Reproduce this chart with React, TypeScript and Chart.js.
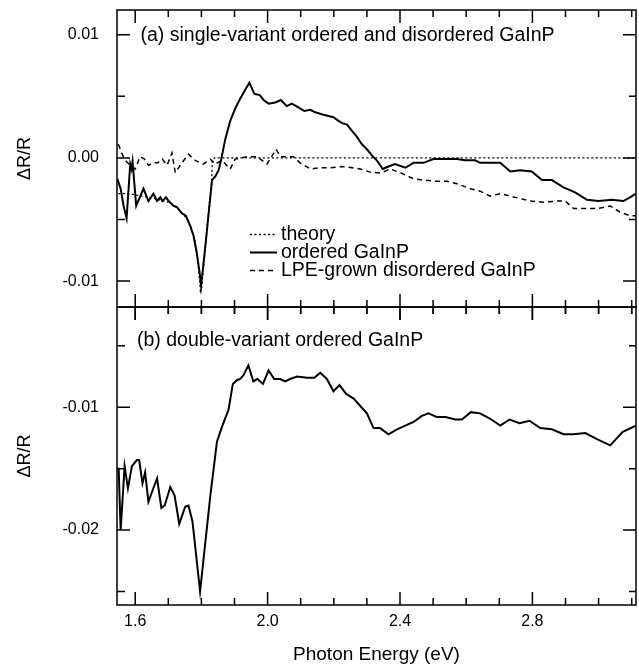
import React, { useEffect, useRef } from "react";
import { Chart, registerables } from "chart.js";

Chart.register(...registerables);

const FONT = "'Liberation Sans', Arial, Helvetica, sans-serif";

// ---------- axes ----------
const X_MIN = 1.545;
const X_MAX = 3.113;
const xTickValues = [1.6, 1.7, 1.8, 1.9, 2.0, 2.1, 2.2, 2.3, 2.4, 2.5, 2.6, 2.7, 2.8, 2.9, 3.0, 3.1];
const xTickLabelValues = [1.6, 2.0, 2.4, 2.8];
const xTickLabelText = ["1.6", "2.0", "2.4", "2.8"];

const TOP_MIN = -0.0121;
const TOP_MAX = 0.012;
const topYTicks = [-0.01, -0.005, 0, 0.005, 0.01];
const topYLabelValues = [-0.01, 0, 0.01];
const topYLabelText = ["-0.01", "0.00", "0.01"];

const BOT_MIN = -0.0261;
const BOT_MAX = -0.00184;
const botYTicks = [-0.025, -0.02, -0.015, -0.01, -0.005];
const botYLabelValues = [-0.02, -0.01];
const botYLabelText = ["-0.02", "-0.01"];

// ---------- texts ----------
const panelALabel = "(a) single-variant ordered and disordered GaInP";
const panelBLabel = "(b) double-variant ordered GaInP";
const legendLabels = ["theory", "ordered GaInP", "LPE-grown disordered GaInP"];
const yTitle = "\u0394R/R";
const xTitle = "Photon Energy (eV)";

// ---------- data (photon energy eV, dR/R) ----------
const theory: [number, number][] = [
  [1.549, -0.0029], [1.58, -0.0029], [1.62, -0.0031], [1.66, -0.0033], [1.7, -0.0036],
  [1.72, -0.0039], [1.74, -0.0044], [1.755, -0.0049], [1.77, -0.0058], [1.78, -0.0067],
  [1.79, -0.0085], [1.797, -0.0108], [1.801, -0.0105], [1.81, -0.0078], [1.82, -0.0048],
  [1.831, -0.0019], [1.833, -0.0002], [1.84, 0], [3.113, 0],
];

const orderedSingle: [number, number][] = [
  [1.546, -0.0017], [1.556, -0.0025], [1.565, -0.0039], [1.574, -0.0049], [1.585, -0.0005],
  [1.589, -0.0009], [1.592, -0.0003], [1.603, -0.0039], [1.625, -0.0025], [1.64, -0.0035],
  [1.655, -0.0029], [1.666, -0.0035], [1.676, -0.0032], [1.682, -0.0035], [1.693, -0.0032],
  [1.701, -0.0035], [1.716, -0.0039], [1.726, -0.004], [1.741, -0.0045], [1.753, -0.0047],
  [1.766, -0.0055], [1.776, -0.0063], [1.786, -0.0077], [1.796, -0.0096], [1.799, -0.0104],
  [1.811, -0.0074], [1.832, -0.0018], [1.842, -0.0015], [1.852, -0.001], [1.86, -0.0001],
  [1.872, 0.0015], [1.887, 0.003], [1.902, 0.004], [1.917, 0.0048], [1.932, 0.0055],
  [1.945, 0.0061], [1.96, 0.0052], [1.976, 0.0051], [1.988, 0.0047], [2.003, 0.0044],
  [2.023, 0.0045], [2.04, 0.0047], [2.058, 0.0042], [2.073, 0.0044], [2.093, 0.0041],
  [2.111, 0.0038], [2.129, 0.0039], [2.144, 0.0037], [2.169, 0.0035], [2.184, 0.0034],
  [2.199, 0.0033], [2.214, 0.003], [2.227, 0.0028], [2.24, 0.0027], [2.255, 0.0022],
  [2.27, 0.0017], [2.285, 0.0011], [2.3, 0.0007], [2.315, 0.0002], [2.33, -0.0002],
  [2.348, -0.0009], [2.365, -0.0007], [2.385, -0.0005], [2.416, -0.0008], [2.441, -0.0004],
  [2.471, -0.0004], [2.501, -0.0001], [2.521, -0.0001], [2.572, -0.0001], [2.597, -0.0002],
  [2.627, -0.0002], [2.642, -0.0004], [2.672, -0.0004], [2.703, -0.0004], [2.733, -0.0011],
  [2.763, -0.001], [2.798, -0.0011], [2.829, -0.0018], [2.859, -0.0018], [2.894, -0.0024],
  [2.929, -0.0028], [2.965, -0.0034], [3.0, -0.0035], [3.04, -0.0034], [3.075, -0.0035],
  [3.095, -0.0032], [3.113, -0.0029],
];

const lpeDisordered: [number, number][] = [
  [1.549, 0.0011], [1.564, 0.0001], [1.57, -0.0002], [1.585, -0.0006], [1.6, -0.0009],
  [1.615, 0.0001], [1.628, -0.0001], [1.64, -0.0006], [1.655, -0.0004], [1.668, -0.0004],
  [1.682, -0.0001], [1.696, -0.0006], [1.711, 0.0004], [1.721, -0.0012], [1.741, -0.0004],
  [1.761, 0.0003], [1.781, -0.0002], [1.806, -0.0005], [1.827, -0.0001], [1.842, -0.0005],
  [1.862, -0.0002], [1.887, -0.0009], [1.902, -0.0001], [1.937, 0.0001], [1.968, 0.0001],
  [1.998, -0.0005], [2.026, 0.0007], [2.038, 0.0001], [2.078, 0.0001], [2.098, -0.0004],
  [2.129, -0.0009], [2.159, -0.0008], [2.189, -0.0008], [2.224, -0.0007], [2.255, -0.0008],
  [2.28, -0.0009], [2.315, -0.0012], [2.345, -0.0012], [2.37, -0.0009], [2.401, -0.0012],
  [2.441, -0.0017], [2.471, -0.0018], [2.511, -0.0019], [2.542, -0.0019], [2.572, -0.0021],
  [2.612, -0.0025], [2.642, -0.0027], [2.672, -0.0031], [2.703, -0.0029], [2.733, -0.0031],
  [2.763, -0.0033], [2.793, -0.0035], [2.834, -0.0036], [2.874, -0.0035], [2.899, -0.0035],
  [2.924, -0.0041], [2.965, -0.0041], [3.0, -0.0041], [3.035, -0.0039], [3.065, -0.0044],
  [3.095, -0.0047], [3.113, -0.0047],
];

const orderedDouble: [number, number][] = [
  [1.546, -0.015], [1.55, -0.015], [1.556, -0.02], [1.568, -0.0148], [1.578, -0.0166],
  [1.59, -0.0148], [1.605, -0.0143], [1.612, -0.0143], [1.622, -0.0162], [1.63, -0.0153],
  [1.64, -0.0177], [1.652, -0.0168], [1.666, -0.0158], [1.679, -0.0182], [1.689, -0.018],
  [1.706, -0.0165], [1.719, -0.0172], [1.733, -0.0195], [1.751, -0.0181], [1.761, -0.018],
  [1.773, -0.0193], [1.796, -0.025], [1.827, -0.0172], [1.847, -0.0128], [1.862, -0.0116],
  [1.882, -0.0102], [1.895, -0.0081], [1.907, -0.0078], [1.917, -0.0077], [1.927, -0.0074],
  [1.942, -0.0066], [1.957, -0.0079], [1.969, -0.0077], [1.986, -0.0081], [2.003, -0.007],
  [2.02, -0.0077], [2.038, -0.0077], [2.053, -0.0079], [2.068, -0.0077], [2.089, -0.0075],
  [2.119, -0.0076], [2.141, -0.0076], [2.159, -0.0072], [2.179, -0.0077], [2.199, -0.0087],
  [2.217, -0.0082], [2.237, -0.0089], [2.26, -0.0093], [2.28, -0.0099], [2.3, -0.0105],
  [2.32, -0.0117], [2.34, -0.0117], [2.365, -0.0122], [2.391, -0.0118], [2.416, -0.0115],
  [2.441, -0.0112], [2.466, -0.0107], [2.486, -0.0105], [2.511, -0.0108], [2.537, -0.0108],
  [2.567, -0.011], [2.587, -0.011], [2.614, -0.0104], [2.642, -0.0105], [2.67, -0.0109],
  [2.703, -0.0115], [2.731, -0.011], [2.761, -0.0113], [2.791, -0.0111], [2.824, -0.0117],
  [2.859, -0.0118], [2.894, -0.0122], [2.924, -0.0122], [2.96, -0.0121], [2.995, -0.0126],
  [3.035, -0.0131], [3.073, -0.012], [3.113, -0.0115],
];

// ---------- helpers ----------
const near = (a: number, b: number) => Math.abs(a - b) < 1e-9;
const idxOf = (arr: number[], v: number) => arr.findIndex((m) => near(m, v));
const toPts = (arr: [number, number][]) => arr.map(([x, y]) => ({ x, y }));

type FrameSpec = {
  top: "down" | "cross" | "none";
  bottom: "up" | "cross" | "none";
  yTicks: number[];
  yMajor: number[];
};

function framePlugin(spec: FrameSpec) {
  return {
    id: "frameTicks",
    afterDraw(chart: any) {
      const { ctx, chartArea: a, scales } = chart;
      const xs = scales.x;
      const ys = scales.y;
      ctx.save();
      ctx.strokeStyle = "#000";
      ctx.lineWidth = 1.5;
      ctx.setLineDash([]);
      ctx.strokeRect(a.left, a.top, a.right - a.left, a.bottom - a.top);
      ctx.beginPath();
      for (const v of xTickValues) {
        const p = xs.getPixelForValue(v);
        const L = idxOf(xTickLabelValues, v) >= 0 ? 13 : 7;
        if (spec.top === "down") {
          ctx.moveTo(p, a.top);
          ctx.lineTo(p, a.top + L);
        } else if (spec.top === "cross") {
          ctx.moveTo(p, a.top - L);
          ctx.lineTo(p, a.top + L);
        }
        if (spec.bottom === "up") {
          ctx.moveTo(p, a.bottom);
          ctx.lineTo(p, a.bottom - L);
        } else if (spec.bottom === "cross") {
          ctx.moveTo(p, a.bottom - L);
          ctx.lineTo(p, a.bottom + L);
        }
      }
      for (const v of spec.yTicks) {
        const p = ys.getPixelForValue(v);
        const major = idxOf(spec.yMajor, v) >= 0;
        ctx.moveTo(a.left, p);
        ctx.lineTo(a.left + (major ? 13 : 8), p);
        ctx.moveTo(a.right, p);
        ctx.lineTo(a.right - (major ? 13 : 7), p);
      }
      ctx.stroke();
      ctx.restore();
    },
  };
}

function panelLabelPlugin(text: string, dx: number, dy: number) {
  return {
    id: "panelLabel",
    afterDraw(chart: any) {
      const { ctx, chartArea: a } = chart;
      ctx.save();
      ctx.fillStyle = "#000";
      ctx.font = `19.5px ${FONT}`;
      ctx.textAlign = "left";
      ctx.textBaseline = "middle";
      ctx.fillText(text, a.left + dx, a.top + dy);
      ctx.restore();
    },
  };
}

const legendStyles = [
  { dash: [2, 2.5], width: 1.3 },
  { dash: [], width: 2 },
  { dash: [5, 4], width: 1.5 },
];

const legendPlugin = {
  id: "customLegend",
  afterDraw(chart: any) {
    const { ctx, chartArea: a } = chart;
    ctx.save();
    legendLabels.forEach((lab, i) => {
      const y = a.top + 224.5 + i * 18;
      ctx.strokeStyle = "#000";
      ctx.lineWidth = legendStyles[i].width;
      ctx.setLineDash(legendStyles[i].dash);
      ctx.beginPath();
      ctx.moveTo(a.left + 133, y);
      ctx.lineTo(a.left + 160, y);
      ctx.stroke();
      ctx.setLineDash([]);
      ctx.fillStyle = "#000";
      ctx.font = `19.5px ${FONT}`;
      ctx.textAlign = "left";
      ctx.textBaseline = "middle";
      ctx.fillText(lab, a.left + 164, y);
    });
    ctx.restore();
  },
};

const zeroPad = (s: any) => {
  s.paddingTop = 0;
  s.paddingBottom = 0;
  s.paddingLeft = 0;
  s.paddingRight = 0;
};

function yScale(min: number, max: number, ticks: number[], labVals: number[], labText: string[]) {
  return {
    type: "linear" as const,
    min,
    max,
    afterBuildTicks: (s: any) => {
      s.ticks = ticks.map((v) => ({ value: v }));
    },
    afterFit: (s: any) => {
      s.width = 117;
      zeroPad(s);
    },
    grid: { display: false, drawTicks: false },
    border: { display: false },
    ticks: {
      autoSkip: false,
      padding: 18,
      color: "#000",
      font: { family: FONT, size: 16 },
      callback: (v: any) => {
        const i = idxOf(labVals, Number(v));
        return i >= 0 ? labText[i] : "";
      },
    },
    title: {
      display: true,
      text: yTitle,
      color: "#000",
      font: { family: FONT, size: 18 },
      padding: { top: 14, bottom: 0 },
    },
  };
}

export default function App() {
  const refA = useRef<HTMLCanvasElement | null>(null);
  const refB = useRef<HTMLCanvasElement | null>(null);

  useEffect(() => {
    if (!refA.current || !refB.current) return;
    const common = {
      pointRadius: 0,
      tension: 0,
      borderColor: "#000",
      fill: false,
    };

    const chartA = new Chart(refA.current, {
      type: "line",
      data: {
        datasets: [
          { ...common, label: legendLabels[0], data: toPts(theory), borderWidth: 1.3, borderDash: [2, 2.5] },
          { ...common, label: legendLabels[1], data: toPts(orderedSingle), borderWidth: 2 },
          { ...common, label: legendLabels[2], data: toPts(lpeDisordered), borderWidth: 1.5, borderDash: [5, 4] },
        ],
      },
      options: {
        responsive: false,
        animation: false,
        devicePixelRatio: 1,
        layout: { padding: { top: 10, right: 3, bottom: 13, left: 0 } },
        plugins: { legend: { display: false }, tooltip: { enabled: false } },
        scales: {
          x: { type: "linear", min: X_MIN, max: X_MAX, display: false },
          y: yScale(TOP_MIN, TOP_MAX, topYTicks, topYLabelValues, topYLabelText),
        },
      } as any,
      plugins: [
        framePlugin({ top: "down", bottom: "cross", yTicks: topYTicks, yMajor: topYLabelValues }),
        legendPlugin,
        panelLabelPlugin(panelALabel, 23.5, 25.5),
      ],
    });

    const chartB = new Chart(refB.current, {
      type: "line",
      data: {
        datasets: [{ ...common, label: "double-variant ordered GaInP", data: toPts(orderedDouble), borderWidth: 2 }],
      },
      options: {
        responsive: false,
        animation: false,
        devicePixelRatio: 1,
        layout: { padding: { top: 7, right: 3, bottom: 0, left: 0 } },
        plugins: { legend: { display: false }, tooltip: { enabled: false } },
        scales: {
          x: {
            type: "linear",
            min: X_MIN,
            max: X_MAX,
            afterBuildTicks: (s: any) => {
              s.ticks = xTickValues.map((v) => ({ value: v }));
            },
            afterFit: (s: any) => {
              s.height = 62;
              zeroPad(s);
            },
            grid: { display: false, drawTicks: false },
            border: { display: false },
            ticks: {
              autoSkip: false,
              maxRotation: 0,
              padding: 7,
              color: "#000",
              font: { family: FONT, size: 16 },
              callback: (v: any) => {
                const i = idxOf(xTickLabelValues, Number(v));
                return i >= 0 ? xTickLabelText[i] : "";
              },
            },
            title: {
              display: true,
              text: xTitle,
              color: "#000",
              font: { family: FONT, size: 19 },
              padding: { top: 0, bottom: 1 },
            },
          },
          y: yScale(BOT_MIN, BOT_MAX, botYTicks, botYLabelValues, botYLabelText),
        },
      } as any,
      plugins: [
        framePlugin({ top: "down", bottom: "up", yTicks: botYTicks, yMajor: botYLabelValues }),
        panelLabelPlugin(panelBLabel, 20, 34),
      ],
    });

    return () => {
      chartA.destroy();
      chartB.destroy();
    };
  }, []);

  return (
    <div style={{ position: "absolute", left: 0, top: 0, width: 639, height: 667, background: "#fff" }}>
      <canvas ref={refA} width={639} height={320} style={{ position: "absolute", left: 0, top: 0 }} />
      <canvas ref={refB} width={639} height={367} style={{ position: "absolute", left: 0, top: 300 }} />
    </div>
  );
}
